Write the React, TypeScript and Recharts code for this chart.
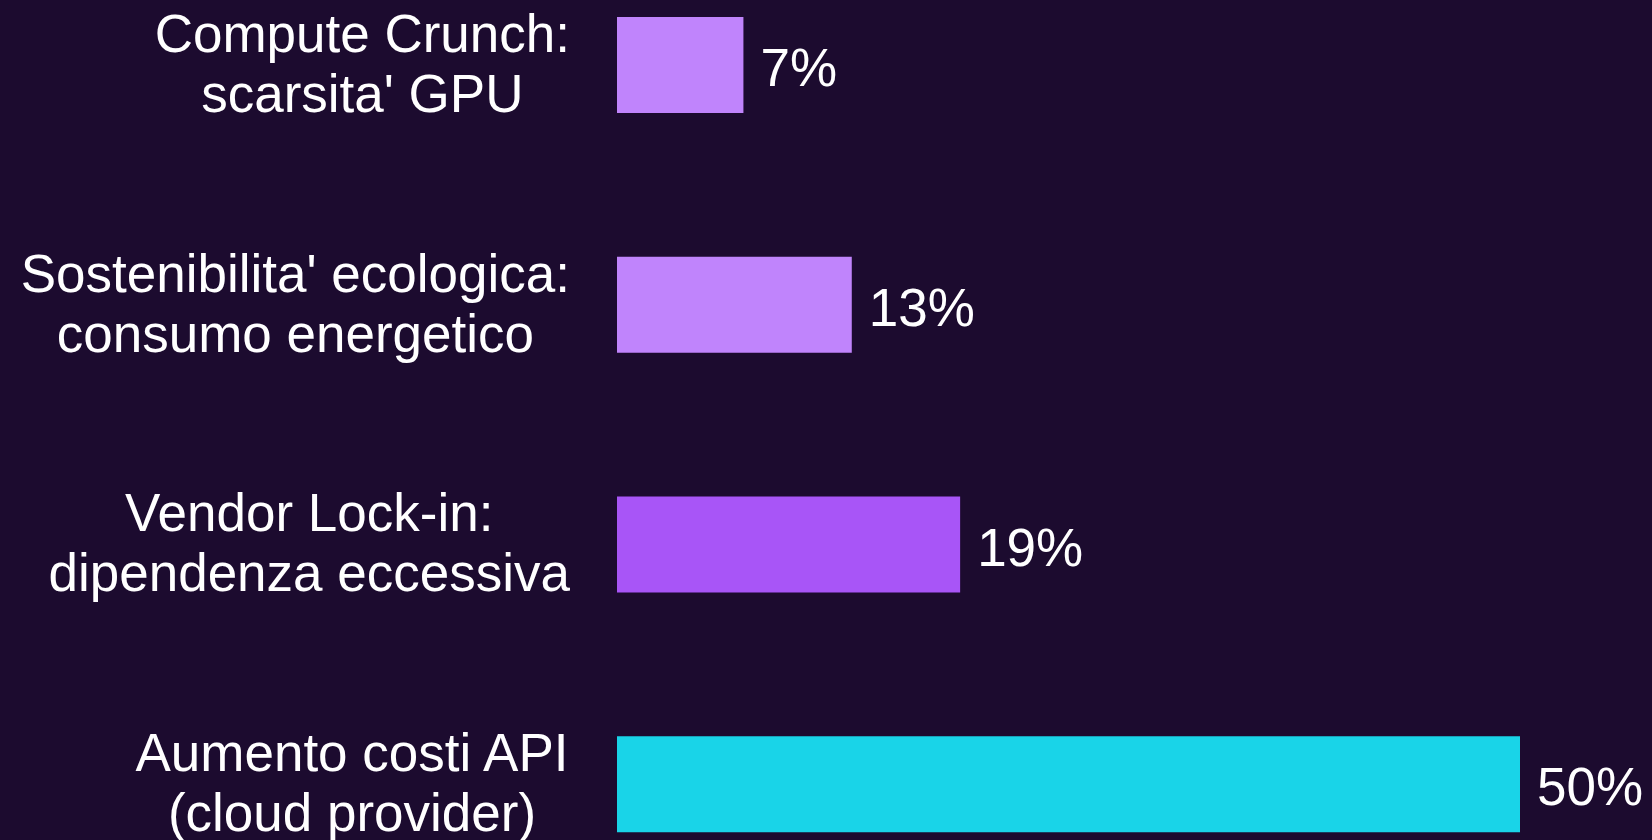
import React from "react";
import { BarChart, Bar, XAxis, YAxis, Cell, LabelList } from "recharts";

const categories = [
  "Compute Crunch:\nscarsita' GPU",
  "Sostenibilita' ecologica:\nconsumo energetico",
  "Vendor Lock-in:\ndipendenza eccessiva",
  "Aumento costi API\n(cloud provider)",
];
const values = [7, 13, 19, 50];
const barColors = ["#c084fc", "#c084fc", "#a855f7", "#19d4e8"];

const data = categories.map((c, i) => ({ name: c, value: values[i] }));

const FONT = "'Liberation Sans', Arial, sans-serif";
const FS = 53;

let ctx: CanvasRenderingContext2D | null = null;
const measure = (s: string) => {
  if (!ctx) {
    const c = document.createElement("canvas");
    ctx = c.getContext("2d");
  }
  if (!ctx) return s.length * FS * 0.5;
  ctx.font = `${FS}px 'Liberation Sans', Arial, sans-serif`;
  return ctx.measureText(s).width;
};

const Tick = (props: any) => {
  const { x, y, payload } = props;
  const lines = String(payload.value).split("\n");
  const lh = 60;
  const start = -((lines.length - 1) * lh) / 2 - 2;
  const w = Math.max(...lines.map(measure));
  const cx = x - w / 2;
  return (
    <text x={cx} y={y} textAnchor="middle" fill="#ffffff" fontSize={FS} fontFamily={FONT}>
      {lines.map((l: string, i: number) => (
        <tspan key={i} x={cx} y={y + start + i * lh} dy="0.36em">
          {l}
        </tspan>
      ))}
    </text>
  );
};

const PctLabel = (props: any) => {
  const { x, y, width, height, value } = props;
  return (
    <text
      x={x + width + 17}
      y={y + height / 2 + 2}
      dy="0.36em"
      fill="#ffffff"
      fontSize={FS}
      fontFamily={FONT}
      textAnchor="start"
    >
      {`${value}%`}
    </text>
  );
};

export default function App() {
  return (
    <div
      style={{
        position: "fixed",
        left: 0,
        top: 0,
        width: 1652,
        height: 840,
        overflow: "hidden",
        background: "#1c0b2f",
      }}
    >
      <div style={{ position: "absolute", left: 0, top: -55 }}>
        <BarChart
          width={1652}
          height={959}
          data={data}
          layout="vertical"
          margin={{ top: 0, right: 132, bottom: 0, left: 0 }}
          barCategoryGap="30%"
        >
          <XAxis type="number" domain={[0, 50]} hide />
          <YAxis
            type="category"
            dataKey="name"
            width={617}
            axisLine={false}
            tickLine={false}
            tickSize={0}
            tickMargin={47}
            tick={<Tick />}
            interval={0}
          />
          <Bar dataKey="value" isAnimationActive={false}>
            {data.map((d, i) => (
              <Cell key={i} fill={barColors[i]} />
            ))}
            <LabelList dataKey="value" content={<PctLabel />} />
          </Bar>
        </BarChart>
      </div>
    </div>
  );
}
